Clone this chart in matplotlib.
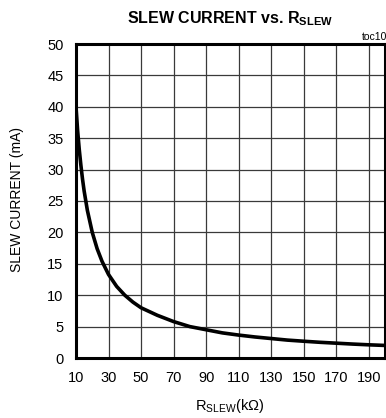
import matplotlib
matplotlib.use("Agg")
import matplotlib.pyplot as plt

plt.rcParams['font.family'] = ['Liberation Sans', 'DejaVu Sans']
plt.rcParams['mathtext.fontset'] = 'custom'
plt.rcParams['mathtext.rm'] = 'Liberation Sans'
plt.rcParams['mathtext.bf'] = 'Liberation Sans:bold'

# slew resistor (kOhm) vs slew current (mA)
r_slew = [10, 11, 12, 13, 14, 15, 17, 20, 23, 26, 30, 35, 40, 45, 50, 60, 70, 80,
          90, 100, 110, 120, 130, 140, 150, 160, 170, 180, 190, 200]
i_slew = [40, 36.2, 33.2, 30.7, 28.5, 26.6, 23.5, 20.0, 17.4, 15.4, 13.3, 11.4, 10.0,
          8.9, 8.0, 6.8, 5.8, 5.0, 4.5, 4.0, 3.65, 3.35, 3.1, 2.85, 2.67, 2.5, 2.36,
          2.22, 2.1, 2.0]

x_ticks = list(range(10, 191, 20))
y_ticks = list(range(0, 51, 5))

fig = plt.figure(figsize=(3.86, 4.18), dpi=100)
ax = fig.add_axes([76 / 386, 1 - 358 / 418, 309 / 386, 314 / 418])

ax.plot(r_slew, i_slew, color='black', lw=2.6, solid_capstyle='butt', zorder=3)

ax.set_xlim(10, 200)
ax.set_ylim(0, 50)
ax.set_xticks(x_ticks)
ax.set_yticks(y_ticks)
ax.grid(True, color='#3a3a3a', lw=0.9)
ax.tick_params(length=0, labelsize=10.5, pad=9)
for s in ax.spines.values():
    s.set_linewidth(2.2)
    s.set_zorder(4)
ax.set_axisbelow(True)

fig.text(0.597, 1 - 19 / 418, r'SLEW CURRENT vs. R$_{\mathbf{SLEW}}$', ha='center', va='center',
         fontsize=11.5, fontweight='bold')
fig.text(362 / 386, 1 - 37 / 418, 'toc10', ha='left', va='center', fontsize=7.5)
fig.text(17 / 386, 1 - 200 / 418, 'SLEW CURRENT (mA)', rotation=90, ha='center', va='center',
         fontsize=10)
fig.text(230 / 386, 1 - 406 / 418, r'R$_{\mathrm{SLEW}}$(k$\Omega$)', ha='center', va='center',
         fontsize=10.5)

fig.savefig('out.png', dpi=100)
